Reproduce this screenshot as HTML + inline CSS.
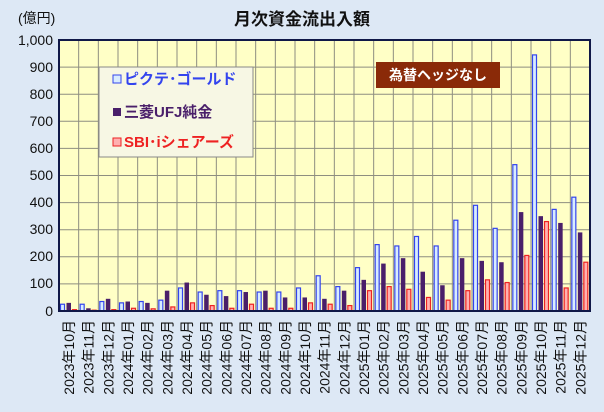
<!DOCTYPE html>
<html><head><meta charset="utf-8"><style>
html,body{margin:0;padding:0;background:#dde8f5;}
svg{display:block;font-family:"Liberation Sans","Noto Sans CJK JP",sans-serif;}
</style></head><body>
<svg id="s" width="604" height="412" viewBox="0 0 604 412" xmlns="http://www.w3.org/2000/svg">
<rect x="0" y="0" width="604" height="412" fill="#dde8f5"/>
<rect x="59" y="40" width="531" height="271" fill="#ffffc6"/>
<g id="grid" stroke="#8e8e80" stroke-width="1"></g>
<g id="bars"></g>
<rect x="59" y="40" width="531" height="271" fill="none" stroke="#101848" stroke-width="2"/>
<text x="302" y="25" font-size="17" font-weight="bold" text-anchor="middle" fill="#111">月次資金流出入額</text>
<text x="18" y="23" font-size="14" fill="#111">(億円)</text>
<g font-size="14" fill="#111" text-anchor="end">
<text x="53" y="45">1,000</text><text x="53" y="72">900</text><text x="53" y="99">800</text><text x="53" y="126">700</text><text x="53" y="153">600</text><text x="53" y="180">500</text><text x="53" y="207">400</text><text x="53" y="234">300</text><text x="53" y="261">200</text><text x="53" y="288">100</text><text x="53" y="316">0</text>
</g>
<rect x="99" y="67" width="154" height="90" fill="#f7f7e4" stroke="#888" stroke-width="1"/>
<rect x="113" y="75" width="8" height="8" fill="#d8ecff" stroke="#3344ee"/>
<text x="124" y="84" font-size="15" font-weight="bold" fill="#3344ee">ピクテ･ゴールド</text>
<rect x="113" y="108" width="8" height="8" fill="#4a1f6a"/>
<text x="124" y="117" font-size="15" font-weight="bold" fill="#4a1f6a">三菱UFJ純金</text>
<rect x="113" y="138" width="8" height="8" fill="#ffb0b0" stroke="#ee2222"/>
<text x="124" y="147" font-size="15" font-weight="bold" fill="#ee2222">SBI･iシェアーズ</text>
<rect x="376" y="62" width="124" height="26" fill="#8a2a08"/>
<text x="438" y="80" font-size="14" font-weight="bold" fill="#fff" text-anchor="middle">為替ヘッジなし</text>
<g font-size="14" fill="#111" text-anchor="end">
<text transform="translate(74,320) rotate(-90)">2023年10月</text>
<text transform="translate(93.7,320) rotate(-90)">2023年11月</text>
<text transform="translate(113.3,320) rotate(-90)">2023年12月</text>
<text transform="translate(133,320) rotate(-90)">2024年01月</text>
<text transform="translate(152.7,320) rotate(-90)">2024年02月</text>
<text transform="translate(172.3,320) rotate(-90)">2024年03月</text>
<text transform="translate(192,320) rotate(-90)">2024年04月</text>
<text transform="translate(211.7,320) rotate(-90)">2024年05月</text>
<text transform="translate(231.3,320) rotate(-90)">2024年06月</text>
<text transform="translate(251,320) rotate(-90)">2024年07月</text>
<text transform="translate(270.7,320) rotate(-90)">2024年08月</text>
<text transform="translate(290.3,320) rotate(-90)">2024年09月</text>
<text transform="translate(310,320) rotate(-90)">2024年10月</text>
<text transform="translate(329.7,320) rotate(-90)">2024年11月</text>
<text transform="translate(349.3,320) rotate(-90)">2024年12月</text>
<text transform="translate(369,320) rotate(-90)">2025年01月</text>
<text transform="translate(388.7,320) rotate(-90)">2025年02月</text>
<text transform="translate(408.3,320) rotate(-90)">2025年03月</text>
<text transform="translate(428,320) rotate(-90)">2025年04月</text>
<text transform="translate(447.7,320) rotate(-90)">2025年05月</text>
<text transform="translate(467.3,320) rotate(-90)">2025年06月</text>
<text transform="translate(487,320) rotate(-90)">2025年07月</text>
<text transform="translate(506.7,320) rotate(-90)">2025年08月</text>
<text transform="translate(526.3,320) rotate(-90)">2025年09月</text>
<text transform="translate(546,320) rotate(-90)">2025年10月</text>
<text transform="translate(565.7,320) rotate(-90)">2025年11月</text>
<text transform="translate(585.3,320) rotate(-90)">2025年12月</text>
</g>
</svg>
<script>
(function(){
var NS="http://www.w3.org/2000/svg";
var g=document.getElementById("grid"),b=document.getElementById("bars");
function el(p,t,a){var e=document.createElementNS(NS,t);for(var k in a)e.setAttribute(k,a[k]);p.appendChild(e);}
var x0=59,w=531/27,y0=311,k=0.271;
for(var i=1;i<10;i++){var y=y0-i*27.1;el(g,"line",{x1:59,x2:590,y1:y,y2:y});}
for(var i=1;i<27;i++){var x=x0+i*w;el(g,"line",{x1:x,x2:x,y1:40,y2:311});}
var B=[25,25,35,30,35,40,85,70,75,75,70,70,85,130,90,160,245,240,275,240,335,390,305,540,945,375,420];
var P=[30,10,45,35,30,75,105,60,55,70,75,50,50,45,75,115,175,195,145,95,195,185,180,365,350,325,290];
var R=[5,3,5,10,8,15,30,20,10,25,10,10,30,25,20,75,90,80,50,40,75,115,105,205,330,85,180];
for(var i=0;i<27;i++){
 var gx=x0+i*w;
 var h=B[i]*k; el(b,"rect",{x:gx+1.5,y:y0-h,width:4,height:h,fill:"#d8ecff",stroke:"#3344ee","stroke-width":1.2});
 h=P[i]*k; el(b,"rect",{x:gx+7.5,y:y0-h,width:4.5,height:h,fill:"#4a1f6a"});
 h=R[i]*k; el(b,"rect",{x:gx+13.5,y:y0-h,width:4,height:h,fill:"#ffb0b0",stroke:"#ee2222","stroke-width":1.2});
}
})();
</script>
</body></html>
